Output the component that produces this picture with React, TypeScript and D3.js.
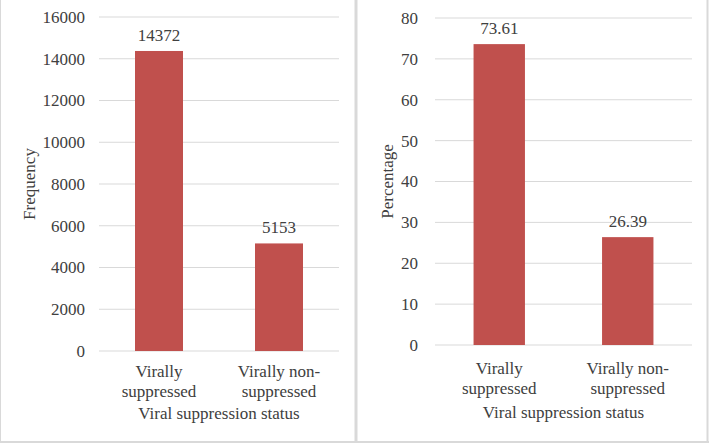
import React from "react";
import * as d3 from "d3";

const categories: string[][] = [["Virally", "suppressed"], ["Virally non-", "suppressed"]];
const frequencies = [14372, 5153];
const frequencyLabels = ["14372", "5153"];
const percentages = [73.61, 26.39];
const percentageLabels = ["73.61", "26.39"];
const freqTicks = [0, 2000, 4000, 6000, 8000, 10000, 12000, 14000, 16000];
const pctTicks = [0, 10, 20, 30, 40, 50, 60, 70, 80];

const FONT = "'Liberation Serif', 'Times New Roman', serif";
const TEXT = "#404040";
const BAR = "#c0504d";
const GRID = "#d9d9d9";
const FS = 17;

type PanelProps = {
  x0: number; x1: number; y0: number; y1: number;
  values: number[]; labels: string[]; ticks: number[]; max: number;
  tickRight: number; yTitle: string; yTitleX: number; titleBaseline: number;
  catBase: number;
};

function Panel(p: PanelProps) {
  const x = d3.scaleBand<number>().domain(d3.range(p.values.length)).range([p.x0, p.x1]).paddingInner(0.6).paddingOuter(0.3);
  const y = d3.scaleLinear().domain([0, p.max]).range([p.y0, p.y1]);
  const midY = (p.y0 + p.y1) / 2;
  const midX = (p.x0 + p.x1) / 2;
  return (
    <g fontFamily={FONT}>
      {p.ticks.map((t) => (
        <g key={t}>
          <line x1={p.x0} x2={p.x1} y1={y(t)} y2={y(t)} stroke={GRID} strokeWidth={1} />
          <text x={p.tickRight} y={y(t)} dy="0.35em" textAnchor="end" fontSize={FS} fill={TEXT}>{t}</text>
        </g>
      ))}
      {p.values.map((v, i) => (
        <g key={i}>
          <rect x={x(i)} y={y(v)} width={x.bandwidth()} height={y(0) - y(v)} fill={BAR} />
          <text x={(x(i) as number) + x.bandwidth() / 2} y={y(v) - 10} textAnchor="middle" fontSize={FS} fill={TEXT}>{p.labels[i]}</text>
          {categories[i].map((line, j) => (
            <text key={j} x={(x(i) as number) + x.bandwidth() / 2} y={p.catBase + j * 20} textAnchor="middle" fontSize={FS} fill={TEXT}>{line}</text>
          ))}
        </g>
      ))}
      <text transform={`translate(${p.yTitleX},${midY}) rotate(-90)`} textAnchor="middle" fontSize={FS} fill={TEXT}>{p.yTitle}</text>
      <text x={midX} y={p.titleBaseline} textAnchor="middle" fontSize={FS} fill={TEXT}>Viral suppression status</text>
    </g>
  );
}

export default function App() {
  return (
    <svg width={709} height={443} style={{ position: "absolute", left: 0, top: 0, background: "#fff" }}>
      <rect x={0} y={0} width={709} height={443} fill="#fff" />
      <line x1={0.5} x2={0.5} y1={0} y2={443} stroke={GRID} strokeWidth={1} />
      <line x1={356} x2={356} y1={0} y2={443} stroke={GRID} strokeWidth={3} />
      <line x1={707.5} x2={707.5} y1={0} y2={443} stroke={GRID} strokeWidth={2} />
      <line x1={0} x2={709} y1={442} y2={442} stroke={GRID} strokeWidth={2} />
      <Panel x0={99} x1={339} y0={351} y1={17} values={frequencies} labels={frequencyLabels} ticks={freqTicks} max={16000}
        tickRight={85} yTitle="Frequency" yTitleX={35} titleBaseline={419} catBase={377} />
      <Panel x0={435} x1={692} y0={345} y1={18} values={percentages} labels={percentageLabels} ticks={pctTicks} max={80}
        tickRight={418} yTitle="Percentage" yTitleX={393} titleBaseline={418} catBase={374} />
    </svg>
  );
}
